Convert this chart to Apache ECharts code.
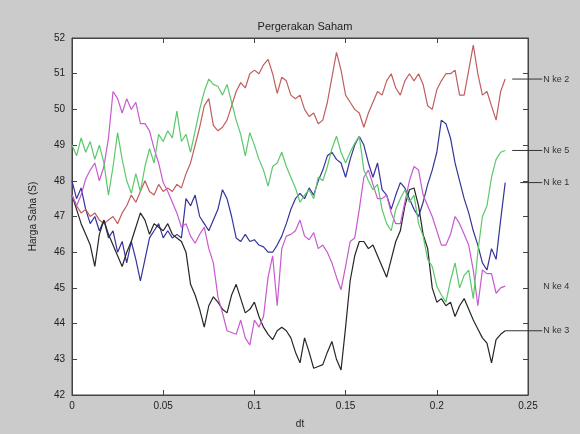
<!DOCTYPE html>
<html>
<head>
<meta charset="utf-8">
<script src="https://cdn.jsdelivr.net/npm/echarts@6/dist/echarts.min.js"></script>
<style>
    html, body { margin: 0; padding: 0; background: #cbcbcb; }
    #chart { width: 580px; height: 434px; }
</style>
</head>
<body>
<div id="chart"></div>
<script>

// time steps (dt), one every 0.0025
const steps = [];
for (let i = 0; i < 96; i++) steps.push(+(i * 0.0025).toFixed(4));

const seriesNames = ["N ke 1", "N ke 2", "N ke 3", "N ke 4", "N ke 5"];

const n1 = [
    48.0, 47.5, 47.8, 47.2, 46.8, 47.0, 46.6, 46.9, 46.4, 46.6,
    46.0, 46.3, 45.7, 46.3, 45.8, 45.2, 45.8, 46.4, 46.6, 46.8,
    46.4, 46.6, 46.4, 46.5, 46.4, 47.5, 47.3, 47.6, 47.0, 46.8,
    46.6, 46.9, 47.2, 47.75, 47.5, 47.0, 46.4, 46.3, 46.5, 46.3,
    46.35, 46.2, 46.15, 46.0, 46.0, 46.2, 46.45, 46.8, 47.2, 47.5,
    47.65, 47.5, 47.8, 47.6, 48.0, 48.3, 48.7, 48.8, 48.6, 48.5,
    48.1, 48.6, 49.0, 49.25, 49.0, 48.5, 48.1, 48.5, 47.75, 47.6,
    47.2, 47.6, 47.95, 47.8, 47.5, 47.2, 47.0, 47.4, 47.9, 48.3,
    48.8, 49.7, 49.6, 49.2, 48.5, 48.0, 47.5, 47.1, 46.6, 46.2,
    45.7, 45.5, 46.1, 45.8, 46.9, 47.95
];

const n2 = [
    47.6, 47.3, 47.1, 47.2, 47.0, 47.1, 46.9, 46.8, 46.9, 47.0,
    46.8, 47.1, 47.3, 47.6, 47.4, 47.7, 48.0, 47.7, 47.6, 47.9,
    47.7, 47.8, 47.7, 47.9, 47.8, 48.2, 48.5, 49.0, 49.5, 50.1,
    50.3, 49.55, 49.4, 49.5, 49.7, 50.1, 50.5, 50.75, 50.6, 51.0,
    51.1, 51.0, 51.25, 51.4, 51.0, 50.45, 50.9, 50.8, 50.4, 50.3,
    50.4, 50.0, 49.8, 49.9, 49.6, 49.7, 50.2, 50.9, 51.6, 51.1,
    50.4, 50.2, 50.0, 49.9, 49.5, 49.9, 50.2, 50.5, 50.4, 50.8,
    51.0, 50.6, 50.4, 50.8, 51.0, 50.8, 51.0, 50.7, 50.1, 50.0,
    50.55, 50.8, 51.0, 51.0, 51.1, 50.4, 50.4, 51.1, 51.8, 51.0,
    50.4, 50.5, 50.1, 49.7, 50.5, 50.85
];

const n3 = [
    47.6, 47.2, 46.8, 46.5, 46.2, 45.6, 46.5, 46.9, 46.5, 46.2,
    45.9, 45.6, 46.0, 46.3, 46.7, 47.1, 46.9, 46.5, 46.8, 46.7,
    46.6, 46.8, 46.5, 46.4, 46.3, 46.0, 45.1, 44.8, 44.4, 43.9,
    44.5, 44.75, 44.6, 44.4, 44.3, 44.8, 45.1, 44.7, 44.3, 44.4,
    44.6, 44.2, 43.9, 43.7, 43.55, 43.8, 43.9, 43.8, 43.6, 43.2,
    42.9, 43.6, 43.2, 42.75, 42.8, 42.85, 43.2, 43.5, 43.0, 42.7,
    43.9, 45.2, 45.9, 46.3, 46.3, 46.1, 46.2, 45.9, 45.6, 45.3,
    45.8, 46.3, 46.6, 47.3, 47.75, 47.8, 47.3, 46.5, 46.1, 45.0,
    44.6, 44.7, 44.5, 44.6, 44.2, 44.5, 44.7, 44.4, 44.1, 43.85,
    43.6, 43.45, 42.9, 43.55, 43.7, 43.8
];

const n4 = [
    47.6, 47.3, 47.6, 48.05, 48.3, 48.5, 48.0, 48.4, 49.2, 50.5,
    50.3, 49.9, 50.3, 50.0, 50.2, 49.6, 49.6, 49.4, 48.9, 48.5,
    47.95, 47.7, 47.4, 47.1, 46.7, 46.8, 46.45, 46.25, 46.5, 46.7,
    46.1, 45.7, 44.75, 44.3, 43.8, 43.75, 43.7, 44.1, 43.6, 43.4,
    44.1, 43.9, 44.2, 45.3, 45.9, 44.5, 46.1, 46.45, 46.5, 46.6,
    46.9, 46.45, 46.35, 46.55, 46.1, 46.2, 46.0, 45.7, 45.3, 44.95,
    45.6, 46.3, 46.4, 47.2, 48.1, 48.3, 47.9, 47.5, 47.5, 47.6,
    47.1, 46.8, 46.8, 47.4, 48.0, 48.4, 48.3, 47.6, 47.3, 47.0,
    46.6, 46.2, 46.2, 46.5, 47.0, 46.8, 46.5, 46.2, 45.5, 44.5,
    45.5, 45.4, 45.4, 44.85, 45.0, 45.05
];

const n5 = [
    49.0, 48.7, 49.2, 48.8, 49.1, 48.6, 49.0, 48.5, 47.6, 48.4,
    49.35, 48.6, 48.0, 47.65, 48.2, 47.7, 48.4, 48.9, 48.5, 49.3,
    49.1, 49.4, 49.2, 49.95, 49.1, 49.3, 48.8, 49.4, 50.0, 50.5,
    50.85, 50.7, 50.65, 50.4, 50.7, 50.2, 49.7, 49.3, 48.7, 49.35,
    49.0, 48.6, 48.3, 47.85, 48.4, 48.5, 48.8, 48.4, 48.1, 47.8,
    47.4, 47.6, 47.75, 47.5, 48.1, 48.0, 48.4, 48.9, 49.25, 48.8,
    48.5, 48.8, 49.05, 49.25, 48.3, 48.0, 47.75, 47.9, 47.2, 46.8,
    46.6, 47.2, 47.5, 47.75, 47.4, 47.6, 46.8, 46.45, 45.8, 45.6,
    45.05, 44.8, 44.6, 45.2, 45.7, 45.0, 45.35, 45.5, 44.7, 46.0,
    47.0, 47.3, 48.1, 48.6, 48.8, 48.85
];

const xTicks = [0, 0.05, 0.1, 0.15, 0.2, 0.25];
const yTicks = [42, 43, 44, 45, 46, 47, 48, 49, 50, 51, 52];

const allValues = [n1, n2, n3, n4, n5];
const colors = ["#34349a", "#c05e5e", "#262626", "#c85ad0", "#5cc86c"];

// gap before the leader line and its length, in px
const leader = [
    { gap: 15, len: 22 },
    { gap: 7, len: 30 },
    { gap: 0, len: 37 },
    { gap: 37, len: 0 },
    { gap: 7, len: 30 }
];

const axisCommon = {
    type: "value",
    axisLine: { show: true, onZero: false, lineStyle: { color: "#444" } },
    axisTick: { show: true, inside: true, length: 5, lineStyle: { color: "#444" } },
    splitLine: { show: false }
};

const chart = echarts.init(document.getElementById("chart"));

chart.setOption({
    backgroundColor: "#cbcbcb",
    animation: false,

    title: {
        text: "Pergerakan Saham",
        left: 300,
        textAlign: "center",
        top: 16,
        textStyle: {
            fontFamily: "Liberation Sans",
            fontSize: 11,
            fontWeight: "normal",
            color: "#222"
        }
    },

    grid: {
        left: 72,
        right: 52,
        top: 38,
        bottom: 39,
        show: true,
        backgroundColor: "#ffffff",
        borderColor: "#444",
        borderWidth: 1
    },

    xAxis: [
        Object.assign({}, axisCommon, {
            position: "bottom",
            min: xTicks[0],
            max: xTicks[xTicks.length - 1],
            interval: 0.05,
            name: "dt",
            nameLocation: "middle",
            nameGap: 24,
            nameTextStyle: { fontFamily: "Liberation Sans", fontSize: 10, color: "#222" },
            axisLabel: { fontFamily: "Liberation Sans", fontSize: 10, color: "#222", margin: 6 }
        }),
        Object.assign({}, axisCommon, {
            position: "top",
            min: xTicks[0],
            max: xTicks[xTicks.length - 1],
            interval: 0.05,
            axisLabel: { show: false }
        })
    ],

    yAxis: [
        Object.assign({}, axisCommon, {
            position: "left",
            min: yTicks[0],
            max: yTicks[yTicks.length - 1],
            interval: 1,
            name: "Harga Saha (S)",
            nameLocation: "middle",
            nameGap: 34,
            nameTextStyle: { fontFamily: "Liberation Sans", fontSize: 10, color: "#222" },
            axisLabel: { fontFamily: "Liberation Sans", fontSize: 10, color: "#222", margin: 7 }
        }),
        Object.assign({}, axisCommon, {
            position: "right",
            min: yTicks[0],
            max: yTicks[yTicks.length - 1],
            interval: 1,
            axisLabel: { show: false }
        })
    ],

    series: seriesNames.map((name, k) => ({
        name: name,
        type: "line",
        showSymbol: false,
        clip: false,
        data: steps.map((s, i) => [s, allValues[k][i]]),
        lineStyle: { color: colors[k], width: 1.2 },
        itemStyle: { color: colors[k] },
        endLabel: {
            show: true,
            distance: 0,
            formatter: () => "{g|}{l|}{t|" + name + "}",
            rich: {
                g: { width: leader[k].gap, height: 1 },
                l: {
                    width: leader[k].len,
                    height: 1,
                    backgroundColor: leader[k].len ? "#333" : "transparent"
                },
                t: {
                    fontFamily: "Liberation Sans",
                    fontSize: 9,
                    color: "#333",
                    padding: [0, 0, 0, 1]
                }
            }
        }
    }))
});

</script>
</body>
</html>
